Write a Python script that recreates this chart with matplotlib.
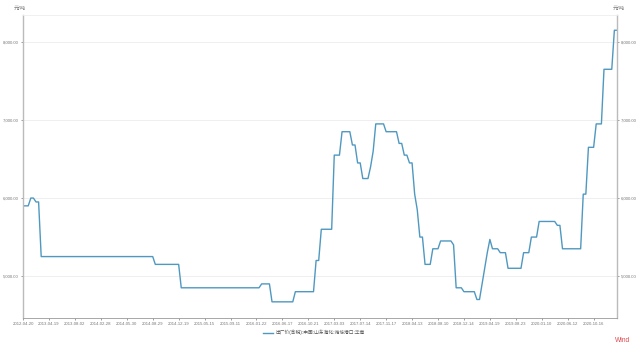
import numpy as np
import matplotlib
matplotlib.use("Agg")
import matplotlib.pyplot as plt

plt.rcParams['font.family'] = ['Liberation Sans', 'Noto Sans CJK SC', 'DejaVu Sans']

# step levels (yuan/ton) and how many observations each level lasts
levels = [5900, 6000, 5950, 5250, 5150, 4850, 4900, 4670, 4800, 5200,
          5600, 6550, 6850, 6680, 6450, 6250, 6400, 6600, 6950, 6850,
          6700, 6550, 6450, 6050, 5850, 5500, 5150, 5350, 5450, 5400,
          4850, 4800, 4700, 4900, 5100, 5300, 5470, 5350, 5300, 5100,
          5300, 5500, 5700, 5650, 5350, 6050, 6650, 6950, 7650, 8150]
runs = [3, 2, 2, 44, 10, 31, 4, 9, 8, 2,
        5, 3, 4, 2, 2, 3, 1, 1, 4, 5,
        2, 2, 2, 1, 1, 2, 3, 3, 5, 1,
        3, 5, 2, 1, 1, 1, 1, 3, 3, 6,
        3, 3, 7, 2, 8, 2, 3, 3, 4, 2]

tick_labels = ["2012-04-20", "2013-04-19", "2013-08-02", "2014-02-28", "2014-05-30",
               "2014-08-29", "2014-12-19", "2015-05-15", "2015-09-11", "2016-01-22",
               "2016-06-17", "2016-10-21", "2017-03-03", "2017-07-14", "2017-11-17",
               "2018-04-13", "2018-08-10", "2018-12-14", "2019-04-19", "2019-08-23",
               "2020-01-10", "2020-06-12", "2020-10-16"]
y_ticks = [5000, 6000, 7000, 8000]
series_name = "出厂价(含税):中国:山东海化:潍坊港口:华南"

values = np.repeat(levels, runs)
x = np.arange(len(values))

fig = plt.figure(figsize=(6.4, 3.48), dpi=100)
ax = fig.add_axes([0.036, 0.086, 0.928, 0.871])

ax.plot(x, values, color="#4f98c0", lw=1.0, label=series_name)

ax.set_xlim(0, len(values) - 1)
ax.set_ylim(4462, 8346)
ax.set_yticks(y_ticks)
ax.set_yticklabels([f"{v:,.2f}" for v in y_ticks])
ax.set_xticks(np.arange(len(tick_labels)) * 10)
ax.set_xticklabels(tick_labels)

ax.grid(axis="y", color="#ececec", lw=0.6)
ax.set_axisbelow(True)
ax.tick_params(axis="both", labelsize=3.1, colors="#777777", length=1.5, width=0.5, pad=1.5)
ax.tick_params(axis="y", labelright=True, right=True)

for side in ["left", "right"]:
    ax.spines[side].set_color("#bbbbbb")
    ax.spines[side].set_linewidth(1.0)
ax.spines["bottom"].set_color("#999999")
ax.spines["bottom"].set_linewidth(0.6)
ax.spines["top"].set_color("#eeeeee")
ax.spines["top"].set_linewidth(0.6)

fig.text(0.031, 0.975, "元/吨", fontsize=3.8, color="#777777", ha="center", va="center")
fig.text(0.966, 0.975, "元/吨", fontsize=3.8, color="#777777", ha="center", va="center")

fig.legend(loc="center", bbox_to_anchor=(0.49, 0.045), frameon=False, fontsize=3.4,
           handlelength=2.2, handletextpad=0.5, labelcolor="#555555")
fig.text(0.985, 0.022, "Wind", fontsize=4.8, color="#e0454a", ha="right", va="center")

fig.savefig("out.png", dpi=100)
